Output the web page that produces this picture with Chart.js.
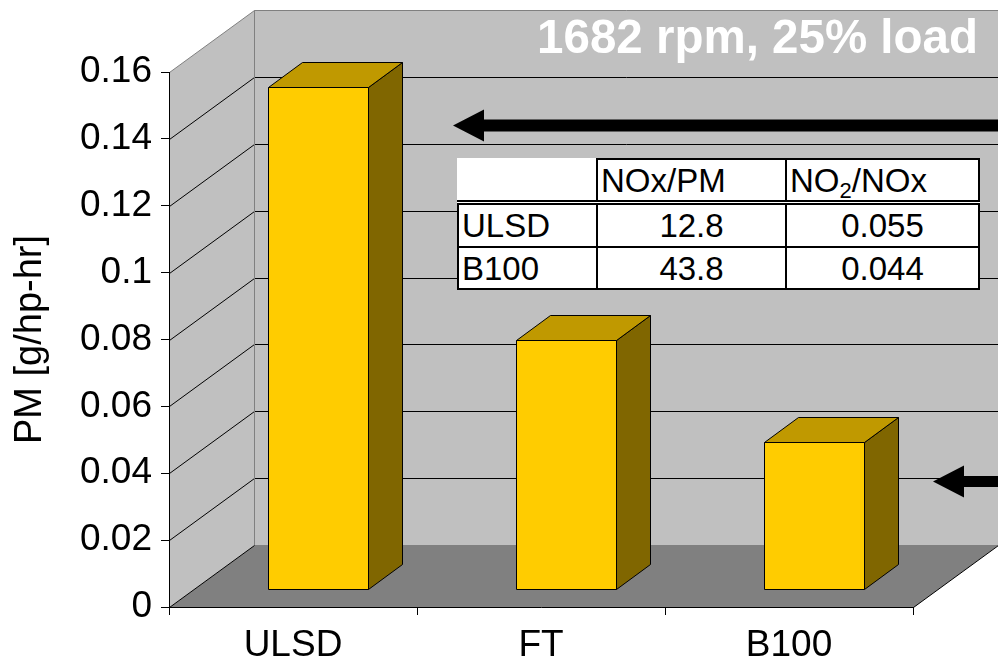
<!DOCTYPE html>
<html>
<head>
<meta charset="utf-8">
<title>PM at 1682 rpm, 25% load</title>
<script src="https://cdn.jsdelivr.net/npm/chart.js@4.4.1/dist/chart.umd.min.js"></script>
<style>
  html, body { margin: 0; padding: 0; background: #fff; }
  #wrap { position: relative; width: 998px; height: 666px; overflow: hidden; }
  #chart { display: block; }
  #ratios {
    position: absolute; left: 457px; top: 158px;
    border-collapse: collapse; background: #fff;
    font-family: "Liberation Sans", Arial, sans-serif; font-size: 33px; color: #000;
  }
  #ratios td { border: 2px solid #000; padding: 0 3px; white-space: nowrap; line-height: 1; }
  #ratios tr.head td { height: 40px; border-bottom: 5px double #000; text-align: left; }
  #ratios tr.head td.corner { border-top: none; border-left: none; }
  #ratios tr.body td { height: 41px; text-align: center; }
  #ratios tr.body.last td { height: 40px; }
  #ratios tr.body td:first-child { text-align: left; }
  #ratios sub { font-size: 22px; vertical-align: -6px; line-height: 0; }
</style>
</head>
<body>
<div id="wrap">
  <canvas id="chart" width="998" height="666"></canvas>
  <table id="ratios"></table>
</div>
<script>
// Fuels and measured particulate matter
const categories = ['ULSD', 'FT', 'B100'];
const pmValues = [0.150, 0.0745, 0.044];
const yTickValues = [0, 0.02, 0.04, 0.06, 0.08, 0.1, 0.12, 0.14, 0.16];
const yAxisTitle = 'PM [g/hp-hr]';
const chartTitle = '1682 rpm, 25% load';

// Emission ratio table
const tableColumns = ['', 'NOx/PM', 'NO<sub>2</sub>/NOx'];
const tableFuels = ['ULSD', 'B100'];
const noxPmRatios = ['12.8', '43.8'];
const no2NoxRatios = ['0.055', '0.044'];

// PM levels marked by the two call-out arrows
const arrowLevels = [0.144, 0.0375];

const FONT = '"Liberation Sans", Arial, sans-serif';

// Oblique depth of the box (walls) and of each bar
const DEPTH = { wallX: 85, wallY: 62, barFrontX: 25, barFrontY: 18, barX: 34, barY: 25 };
const COLORS = {
  wall: '#c0c0c0', floor: '#808080', edge: '#808080',
  front: '#ffcc00', top: '#c09900', side: '#806600'
};

function poly(ctx, pts, fill, stroke) {
  ctx.beginPath();
  ctx.moveTo(pts[0][0], pts[0][1]);
  for (let i = 1; i < pts.length; i++) ctx.lineTo(pts[i][0], pts[i][1]);
  ctx.closePath();
  if (fill) { ctx.fillStyle = fill; ctx.fill(); }
  if (stroke) { ctx.strokeStyle = stroke; ctx.lineWidth = 1; ctx.stroke(); }
}
function line(ctx, pts, color) {
  ctx.beginPath();
  ctx.moveTo(pts[0][0], pts[0][1]);
  for (let i = 1; i < pts.length; i++) ctx.lineTo(pts[i][0], pts[i][1]);
  ctx.strokeStyle = color; ctx.lineWidth = 1; ctx.stroke();
}

const box3d = {
  id: 'box3d',
  beforeDraw(chart) {
    const { ctx, chartArea: a, scales: { y } } = chart;
    const dx = DEPTH.wallX, dy = DEPTH.wallY;
    const L = a.left + 0.5, R = a.right + 0.5, T = a.top + 0.5, B = a.bottom + 0.5;
    ctx.save();
    // back wall, side wall and floor
    ctx.fillStyle = COLORS.wall;
    ctx.fillRect(a.left + dx, a.top - dy, a.right - a.left + 1, a.bottom - a.top);
    poly(ctx, [[L, T], [L + dx, T - dy], [L + dx, B - dy], [L, B]], COLORS.wall);
    poly(ctx, [[L, B], [R, B], [R + dx, B - dy], [L + dx, B - dy]], COLORS.floor);

    // gridlines running along the side wall and across the back wall
    yTickValues.forEach(v => {
      if (v === y.min || v === y.max) return;
      const py = Math.round(y.getPixelForValue(v)) + 0.5;
      line(ctx, [[L, py], [L + dx, py - dy], [R + dx, py - dy]], '#000');
    });

    // box edges
    line(ctx, [[L, T], [L + dx, T - dy], [R + dx, T - dy]], COLORS.edge);
    line(ctx, [[L + dx, T - dy], [L + dx, B - dy], [R + dx, B - dy]], COLORS.edge);
    line(ctx, [[L, B], [L + dx, B - dy]], '#000');
    line(ctx, [[R, B], [R + dx, B - dy]], '#000');
    ctx.restore();
  },
  afterDatasetsDraw(chart) {
    const { ctx } = chart;
    const meta = chart.getDatasetMeta(0);
    const fx = DEPTH.barFrontX, fy = DEPTH.barFrontY, bx = DEPTH.barX, by = DEPTH.barY;
    ctx.save();
    ctx.lineJoin = 'miter';
    meta.data.forEach(bar => {
      const p = bar.getProps(['x', 'y', 'base', 'width'], true);
      const l = Math.round(p.x - p.width / 2 + fx) + 0.5;
      const r = Math.round(p.x + p.width / 2 + fx) + 0.5;
      const t = Math.round(p.y - fy) + 0.5;
      const b = Math.round(p.base - fy) + 0.5;
      poly(ctx, [[r, t], [r + bx, t - by], [r + bx, b - by], [r, b]], COLORS.side, '#000');
      poly(ctx, [[l, t], [l + bx, t - by], [r + bx, t - by], [r, t]], COLORS.top, '#000');
      poly(ctx, [[l, t], [r, t], [r, b], [l, b]], COLORS.front, '#000');
    });
    ctx.restore();
  },
  afterDraw(chart) {
    const { ctx, chartArea: a, scales: { y } } = chart;
    ctx.save();
    // heading inside the back wall
    ctx.font = 'bold 47.5px ' + FONT;
    ctx.fillStyle = '#fff';
    ctx.textAlign = 'right';
    ctx.textBaseline = 'alphabetic';
    ctx.fillText(chartTitle, chart.width - 20, 53);

    // call-out arrows pointing left
    const tips = [a.left + 284, a.left + 764];
    const shafts = [6, 5.5];
    arrowLevels.forEach((lv, i) => {
      const cy = y.getPixelForValue(lv);
      const tx = tips[i], hl = 31, hh = 16, sh = shafts[i], end = chart.width;
      poly(ctx, [[tx, cy], [tx + hl, cy - hh], [tx + hl, cy - sh], [end, cy - sh],
                 [end, cy + sh], [tx + hl, cy + sh], [tx + hl, cy + hh]], '#000');
    });
    ctx.restore();
  }
};

const axisFont = { family: FONT, size: 37 };

new Chart(document.getElementById('chart'), {
  type: 'bar',
  data: {
    labels: categories,
    datasets: [{
      label: 'PM',
      data: pmValues,
      backgroundColor: 'rgba(0,0,0,0)',
      borderWidth: 0,
      categoryPercentage: 1,
      barPercentage: 0.404
    }]
  },
  options: {
    responsive: false,
    animation: false,
    events: [],
    layout: { padding: { top: 72, right: 85, left: 0, bottom: 0 } },
    plugins: { legend: { display: false }, tooltip: { enabled: false }, title: { display: false } },
    scales: {
      x: {
        grid: { display: true, drawOnChartArea: false, drawTicks: true, tickLength: 8, color: '#000', offset: true },
        border: { display: true, color: '#000', width: 1 },
        ticks: { color: '#000', font: axisFont, padding: 9, maxRotation: 0, autoSkip: false },
        afterFit(s) { s.height = 59; }
      },
      y: {
        min: 0,
        max: 0.16,
        afterBuildTicks(s) { s.ticks = yTickValues.map(v => ({ value: v })); },
        grid: { display: true, drawOnChartArea: false, drawTicks: true, tickLength: 8, color: '#000' },
        border: { display: true, color: '#000', width: 1 },
        ticks: { color: '#000', font: axisFont, padding: 9, callback: v => String(+Number(v).toFixed(2)) },
        title: { display: true, text: yAxisTitle, color: '#000', font: { family: FONT, size: 38 }, padding: { top: 8, bottom: 0 } },
        afterFit(s) { s.width = 169; }
      }
    }
  },
  plugins: [box3d]
});

// ratio table
(function buildTable() {
  const tbl = document.getElementById('ratios');
  const widths = [140, 189, 193];
  let html = '<tr class="head">';
  tableColumns.forEach((c, i) => {
    html += '<td' + (i === 0 ? ' class="corner"' : '') + ' style="width:' + (widths[i] - 8) + 'px">' + c + '</td>';
  });
  html += '</tr>';
  tableFuels.forEach((f, i) => {
    const cls = i === tableFuels.length - 1 ? 'body last' : 'body';
    html += '<tr class="' + cls + '"><td>' + f + '</td><td>' + noxPmRatios[i] + '</td><td>' + no2NoxRatios[i] + '</td></tr>';
  });
  tbl.innerHTML = html;
})();
</script>
</body>
</html>
